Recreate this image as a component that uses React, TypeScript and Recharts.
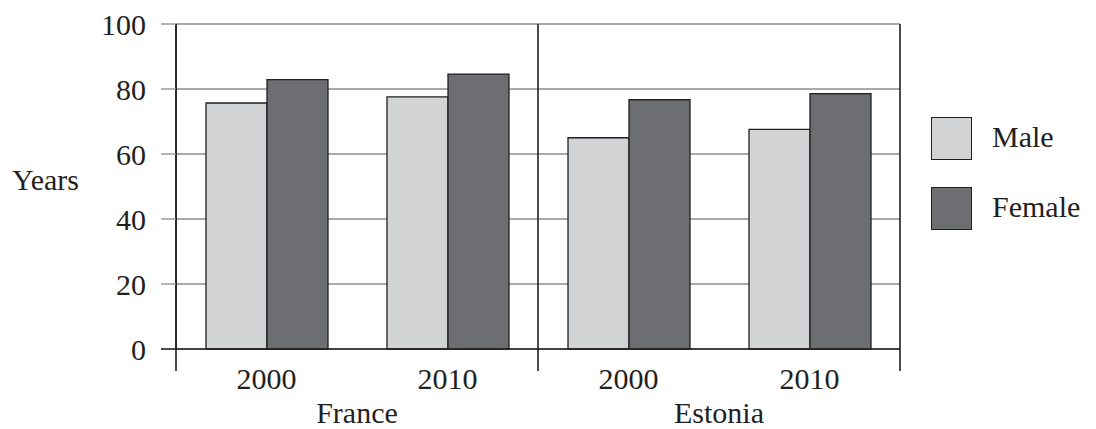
import { BarChart, Bar, XAxis, YAxis, CartesianGrid, Legend } from "recharts";

const years = ["2000", "2010", "2000", "2010"];
const countries = ["France", "France", "Estonia", "Estonia"];
const male = [75.7, 77.6, 65.0, 67.6];
const female = [82.9, 84.6, 76.7, 78.6];
const yTicks = [0, 20, 40, 60, 80, 100];

const data = years.map((year, i) => ({
  year,
  country: countries[i],
  Male: male[i],
  Female: female[i],
}));

const FONT = '"Liberation Serif", "Times New Roman", serif';
const INK = "#231f20";
const GRID = "#8c8c8c";
const MALE_FILL = "#d1d3d4";
const FEMALE_FILL = "#6d6e71";

function YTick(props: any) {
  const { x, y, payload } = props;
  const isZero = payload.value === 0;
  return (
    <g>
      <line x1={x + 15} x2={x + 30} y1={y} y2={y} stroke={isZero ? INK : GRID} strokeWidth={isZero ? 1.6 : 1.3} />
      <text x={x} y={y} dy="0.355em" textAnchor="end" fontFamily={FONT} fontSize={30} fill={INK}>
        {payload.value}
      </text>
    </g>
  );
}

function YearTick(props: any) {
  const { x, y, payload, index } = props;
  const half = payload.offset ?? 0;
  const lines: number[] = [];
  if (index === 0) lines.push(x - half);
  if (index === 1 || index === 3) lines.push(x + half);
  return (
    <g>
      {lines.map((lx) => (
        <line key={lx} x1={lx} x2={lx} y1={y} y2={y + 22} stroke={INK} strokeWidth={1.6} />
      ))}
      <text x={x} y={y + 40} textAnchor="middle" fontFamily={FONT} fontSize={30} fill={INK}>
        {payload.value}
      </text>
    </g>
  );
}

function CountryTick(props: any) {
  const { x, y, payload } = props;
  return (
    <text x={x} y={y + 39} textAnchor="middle" fontFamily={FONT} fontSize={30} fill={INK}>
      {payload.value}
    </text>
  );
}

function YearsLabel(props: any) {
  const { viewBox } = props;
  return (
    <text x={viewBox.x + 12} y={viewBox.y + viewBox.height / 2 + 3.5} fontFamily={FONT} fontSize={30} fill={INK}>
      Years
    </text>
  );
}

function LegendBox() {
  const items = [
    { name: "Male", fill: MALE_FILL },
    { name: "Female", fill: FEMALE_FILL },
  ];
  return (
    <div style={{ fontFamily: FONT, fontSize: 30, color: INK }}>
      {items.map((it) => (
        <div key={it.name} style={{ display: "flex", alignItems: "center", height: 43, marginBottom: 27 }}>
          <div
            style={{
              width: 39,
              height: 41,
              background: it.fill,
              border: `1.5px solid ${INK}`,
              marginRight: 20,
            }}
          />
          <span style={{ lineHeight: "30px", marginTop: -3 }}>{it.name}</span>
        </div>
      ))}
    </div>
  );
}

export default function App() {
  return (
    <div style={{ position: "absolute", left: 0, top: 0, background: "#fff" }}>
      <BarChart
        width={1096}
        height={429}
        data={data}
        margin={{ top: 24, right: 31, bottom: 0, left: 0 }}
        barCategoryGap={30}
        barGap={0}
      >
        <CartesianGrid vertical={false} stroke={GRID} strokeWidth={1.3} />
        <CartesianGrid
          horizontal={false}
          stroke={INK}
          strokeWidth={1.6}
          verticalCoordinatesGenerator={({ offset }: any) => [
            offset.left,
            offset.left + offset.width / 2,
            offset.left + offset.width,
          ]}
        />
        <YAxis
          width={176}
          domain={[0, 100]}
          ticks={yTicks}
          tickLine={false}
          tickSize={15}
          tickMargin={15}
          axisLine={{ stroke: INK, strokeWidth: 1.6 }}
          tick={<YTick />}
          label={<YearsLabel />}
        />
        <XAxis
          dataKey="year"
          height={35}
          interval={0}
          tickLine={false}
          tickSize={0}
          tickMargin={0}
          axisLine={{ stroke: INK, strokeWidth: 1.6 }}
          tick={<YearTick />}
        />
        <XAxis
          xAxisId="country"
          dataKey="country"
          allowDuplicatedCategory={false}
          height={45}
          interval={0}
          tickLine={false}
          tickSize={0}
          tickMargin={0}
          axisLine={false}
          tick={<CountryTick />}
        />
        <Legend
          layout="vertical"
          align="right"
          verticalAlign="top"
          content={<LegendBox />}
          wrapperStyle={{ left: 931, top: 117, width: 165 }}
        />
        <Bar dataKey="Male" fill={MALE_FILL} stroke={INK} strokeWidth={1.3} isAnimationActive={false} />
        <Bar dataKey="Female" fill={FEMALE_FILL} stroke={INK} strokeWidth={1.3} isAnimationActive={false} />
      </BarChart>
    </div>
  );
}
